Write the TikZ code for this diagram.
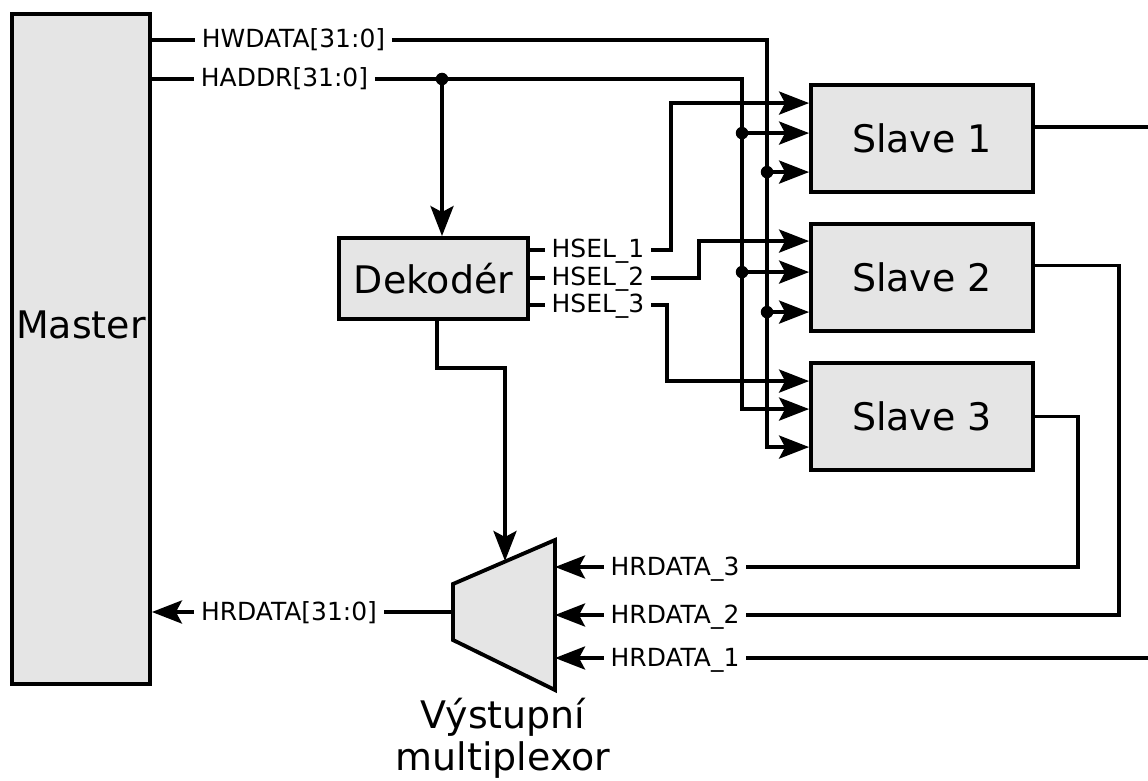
\documentclass[tikz,border=0pt]{standalone}
\usepackage{fontspec}
\setmainfont{DejaVu Sans}
\usetikzlibrary{arrows.meta, positioning, calc}
\definecolor{boxgray}{HTML}{E5E5E5}
\tikzset{
  block/.style={
    rectangle, draw=black, fill=boxgray, line width=2.2pt,
    inner sep=0pt, font=\fontsize{21.6}{25}\selectfont
  },
  bigtext/.style={font=\fontsize{21.6}{24}\selectfont, align=center, inner sep=0pt},
  sig/.style={
    font=\fontsize{14.2}{17}\selectfont, inner xsep=0.13cm, inner ysep=0pt,
    text height=0.40cm, text depth=0.08cm
  },
  wire/.style={line width=2.2pt},
  arrow/.style={wire, -{Stealth[length=6mm, width=4.6mm, inset=1.2mm]}},
  junction/.style={circle, fill=black, inner sep=0pt, minimum size=2.5mm},
}

\begin{document}
\begin{tikzpicture}[x=0.02cm, y=-0.02cm]
  \useasboundingbox (0,0) rectangle (1148,780);

  % blocks
  \node[block, minimum width=2.76cm, minimum height=13.4cm] (master) at (81,349) {};
  \node[bigtext] at ($(master.center)+(0,-24)$) {Master};
  \node[block, minimum width=3.78cm, minimum height=1.62cm] (dec) at (433.5,278.5) {Dekodér};
  \node[block, minimum width=4.44cm, minimum height=2.14cm] (slave1) at (922,138.5) {Slave 1};
  \node[block, minimum width=4.44cm, minimum height=2.14cm] (slave2) at (922,277.5) {Slave 2};
  \node[block, minimum width=4.44cm, minimum height=2.14cm] (slave3) at (922,416.5) {Slave 3};

  % output multiplexer
  \draw[fill=boxgray, line width=2.2pt, line join=miter]
    (453,584) -- (555,540) -- (555,690) -- (453,640) -- cycle;
  \coordinate (mux-top) at (505,561);
  \coordinate (mux-out) at (453,612);
  \coordinate (mux-in3) at (555,567);
  \coordinate (mux-in2) at (555,615);
  \coordinate (mux-in1) at (555,658);
  \node[bigtext] (muxlabel) at (503,738) {Výstupní\\multiplexor};

  % slave inputs
  \coordinate (s1-sel)  at ($(slave1.north west)+(0,20)$);
  \coordinate (s1-addr) at ($(slave1.north west)+(0,50)$);
  \coordinate (s1-data) at ($(slave1.north west)+(0,89)$);
  \coordinate (s2-sel)  at ($(slave2.north west)+(0,19)$);
  \coordinate (s2-addr) at ($(slave2.north west)+(0,50)$);
  \coordinate (s2-data) at ($(slave2.north west)+(0,90)$);
  \coordinate (s3-sel)  at ($(slave3.north west)+(0,20)$);
  \coordinate (s3-addr) at ($(slave3.north west)+(0,48)$);
  \coordinate (s3-data) at ($(slave3.north west)+(0,86)$);

  % signal labels
  \node[sig] (hwdata) at (293.5,40) {HWDATA[31:0]};
  \node[sig] (haddr)  at (284.5,79) {HADDR[31:0]};
  \node[sig] (hsel1)  at (598,250) {HSEL\_1};
  \node[sig] (hsel2)  at (598,278) {HSEL\_2};
  \node[sig] (hsel3)  at (598,305) {HSEL\_3};
  \node[sig] (hr3)    at (675,567) {HRDATA\_3};
  \node[sig] (hr2)    at (675,615) {HRDATA\_2};
  \node[sig] (hr1)    at (675,658) {HRDATA\_1};
  \node[sig] (hrdata) at (289,612) {HRDATA[31:0]};

  % write data bus
  \coordinate (wbus) at (767,40);
  \draw[wire] (master.east |- hwdata) -- (hwdata.west);
  \draw[arrow] (hwdata.east) -- (wbus) |- (s3-data);
  \draw[arrow] (wbus |- s1-data) -- (s1-data);
  \draw[arrow] (wbus |- s2-data) -- (s2-data);
  \node[junction] at (wbus |- s1-data) {};
  \node[junction] at (wbus |- s2-data) {};

  % address bus
  \coordinate (abus) at (742,79);
  \coordinate (atap) at (442,79);
  \draw[wire] (master.east |- haddr) -- (haddr.west);
  \draw[arrow] (haddr.east) -- (abus) |- (s3-addr);
  \draw[arrow] (abus |- s1-addr) -- (s1-addr);
  \draw[arrow] (abus |- s2-addr) -- (s2-addr);
  \draw[arrow] (atap) -- (atap |- dec.north);
  \node[junction] at (atap) {};
  \node[junction] at (abus |- s1-addr) {};
  \node[junction] at (abus |- s2-addr) {};

  % slave selects
  \draw[wire] (dec.east |- hsel1) -- (hsel1.west);
  \draw[wire] (dec.east |- hsel2) -- (hsel2.west);
  \draw[wire] (dec.east |- hsel3) -- (hsel3.west);
  \draw[arrow] (hsel1.east) -- ++(20,0) |- (s1-sel);
  \draw[arrow] (hsel2.east) -- ++(48,0) |- (s2-sel);
  \draw[arrow] (hsel3.east) -- ++(16,0) |- (s3-sel);

  % read data back to the master
  \draw[arrow] ([xshift=0.07cm]dec.south) -- ++(0,47) -| (mux-top);
  \draw[wire] (slave3.east) -- ++(43,0) |- (hr3.east);
  \draw[wire] ($(slave2.east)+(0,-12)$) -- ++(84,0) |- (hr2.east);
  \draw[wire] ($(slave1.east)+(0,-11.5)$) -- ++(140,0);
  \draw[wire] (hr1.east) -- ++(440,0);
  \draw[arrow] (hr3.west) -- (mux-in3);
  \draw[arrow] (hr2.west) -- (mux-in2);
  \draw[arrow] (hr1.west) -- (mux-in1);
  \draw[wire] (mux-out) -- (hrdata.east);
  \draw[arrow] (hrdata.west) -- (hrdata.west -| master.east);
\end{tikzpicture}
\end{document}
